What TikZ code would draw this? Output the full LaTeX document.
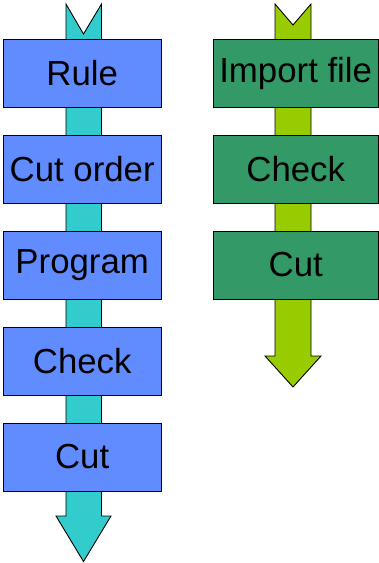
\documentclass[tikz,border=0pt]{standalone}
\usepackage{fontspec}
\setmainfont{Liberation Sans}
\definecolor{boxblue}{RGB}{97,140,255}
\definecolor{arrcyan}{RGB}{51,204,204}
\definecolor{boxgreen}{RGB}{51,153,102}
\definecolor{arrlime}{RGB}{153,204,0}
\begin{document}
\begin{tikzpicture}[x=1pt,y=-1pt,
  arrowshape/.style={draw=black,line width=0.9pt,line join=miter},
  stepbox/.style={draw=black,line width=0.9pt,minimum height=68pt,inner sep=0pt,
    font=\fontsize{34.8}{36}\selectfont,text=black},
  leftbox/.style={stepbox,fill=boxblue,minimum width=157.5pt},
  rightbox/.style={stepbox,fill=boxgreen,minimum width=165.5pt}]
\useasboundingbox (0,0) rectangle (379,563);
% arrows
\draw[arrowshape,fill=arrcyan] (66,4) -- (83.5,34) -- (101.5,4) -- (101.5,516) -- (111,516)
  -- (83.5,561.5) -- (56,516) -- (66,516) -- cycle;
\draw[arrowshape,fill=arrlime] (275,4) -- (293,25) -- (311,4) -- (311,356) -- (321,356)
  -- (293,387) -- (265,356) -- (275,356) -- cycle;
% left boxes
\node[leftbox] (rule) at (82.2,73) {Rule};
\node[leftbox] (cutorder) at (82.2,169) {Cut order};
\node[leftbox] (program) at (82.2,265) {Program};
\node[leftbox] (check) at (82.2,361) {Check};
\node[leftbox] (cut) at (82.2,457) {Cut};
% right boxes
\node[rightbox] (import) at (295.7,73) {Import file};
\node[rightbox] (check2) at (295.7,169) {Check};
\node[rightbox] (cut2) at (295.7,265) {Cut};
\end{tikzpicture}
\end{document}
